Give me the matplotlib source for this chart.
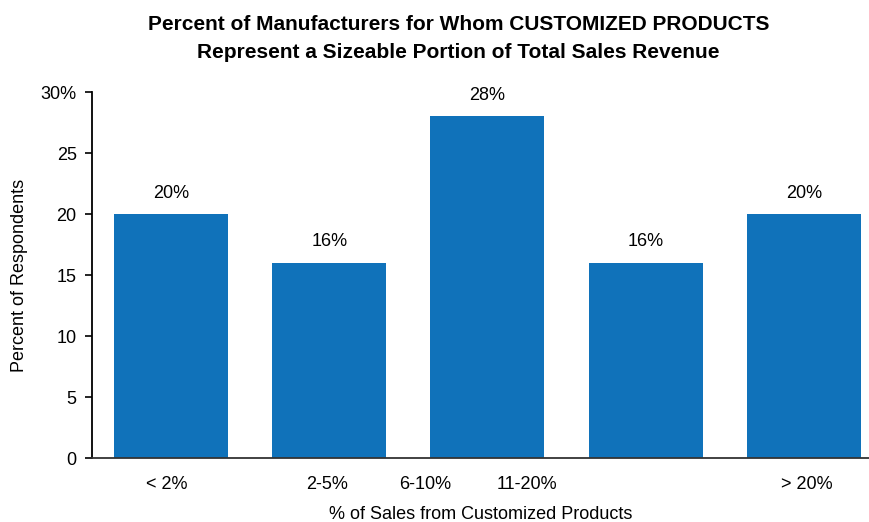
import matplotlib.pyplot as plt

plt.rcParams["font.family"] = ["Liberation Sans", "DejaVu Sans"]

# Chart data
categories = ["< 2%", "2-5%", "6-10%", "11-20%", "> 20%"]
values = [20, 16, 28, 16, 20]
# the tick labels in the source sit at odd places along the axis
label_pos = [-0.03, 0.986, 1.605, 2.25, 4.02]
y_ticks = [0, 5, 10, 15, 20, 25, 30]
y_tick_labels = ["0", "5", "10", "15", "20", "25", "30%"]

fig = plt.figure(figsize=(8.7, 5.22), dpi=100)
ax = fig.add_axes([0.1057, 0.1226, 0.894, 0.701])

x = range(len(values))
bars = ax.bar(x, values, width=0.72, color="#1072BA")

for xi, v in zip(x, values):
    ax.annotate(f"{v}%", (xi, v), xytext=(0, 9), textcoords="offset points",
                ha="center", va="bottom", fontsize=13)

ax.set_xlim(-0.5, 4.417)
ax.set_ylim(0, 30)
ax.set_yticks(y_ticks)
ax.set_yticklabels(y_tick_labels, fontsize=13)
ax.set_xticks(label_pos)
ax.set_xticklabels(categories, fontsize=13)
ax.tick_params(axis="x", length=0, pad=13)
ax.tick_params(axis="y", direction="out", length=5, width=1.2, pad=6)

for side in ["top", "right"]:
    ax.spines[side].set_visible(False)
ax.spines["left"].set_linewidth(1.3)
ax.spines["bottom"].set_linewidth(1.3)
ax.spines["bottom"].set_color("#333333")

ax.set_ylabel("Percent of Respondents", fontsize=13, labelpad=9)
ax.set_xlabel("% of Sales from Customized Products", fontsize=13, labelpad=9)

fig.suptitle("Percent of Manufacturers for Whom CUSTOMIZED PRODUCTS\n"
             "Represent a Sizeable Portion of Total Sales Revenue",
             fontsize=15, fontweight="bold", x=0.527, y=0.972, linespacing=1.6)

fig.savefig("out.png", dpi=100)
